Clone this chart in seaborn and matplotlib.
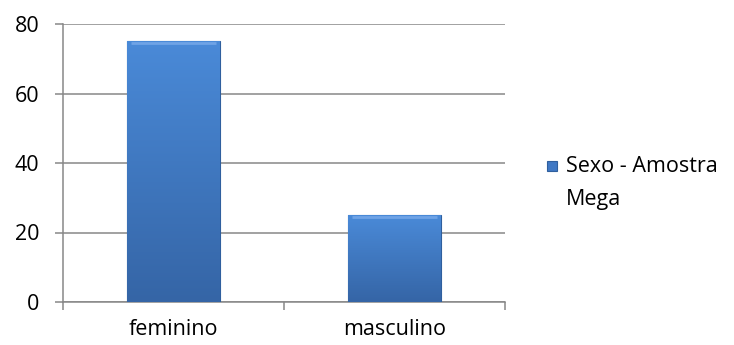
import numpy as np
import matplotlib
matplotlib.use('Agg')
import matplotlib.pyplot as plt
import pandas as pd
import seaborn as sns

# Dados do gráfico
categorias = ['feminino', 'masculino']
valores = [75, 25]
serie = ['Sexo - Amostra', 'Mega']
yticks = [0, 20, 40, 60, 80]

df = pd.DataFrame({'sexo': categorias, 'valor': valores})

sns.set_style('white')
plt.rcParams['font.family'] = ['Open Sans', 'DejaVu Sans']
plt.rcParams['text.color'] = 'black'
plt.rcParams['xtick.labelcolor'] = 'black'
plt.rcParams['ytick.labelcolor'] = 'black'
fs = 15.5

fig = plt.figure(figsize=(7.34, 3.45), dpi=100)
ax = fig.add_axes([63 / 734, 43 / 345, 442 / 734, 278 / 345])

sns.barplot(data=df, x='sexo', y='valor', color='#3f78c4', width=0.42,
            edgecolor='#2f5f9e', linewidth=0.8, ax=ax, zorder=3)

# gradiente vertical nas barras (estilo Excel)
grad = np.linspace(0, 1, 256).reshape(-1, 1)
cmap = matplotlib.colors.LinearSegmentedColormap.from_list('b', ['#3565a6', '#4a8ad8'])
for p in ax.patches:
    x0, y0 = p.get_x(), p.get_y()
    w, h = p.get_width(), p.get_height()
    im = ax.imshow(grad, cmap=cmap, origin='lower', aspect='auto',
                   extent=[x0, x0 + w, y0, y0 + h], zorder=3.5)
    im.set_clip_path(p)
    ax.plot([x0 + w * 0.04, x0 + w * 0.96], [y0 + h - 0.6, y0 + h - 0.6],
            color='#6fa3e6', lw=2, zorder=4, solid_capstyle='butt')

ax.set_xlim(-0.5, 1.5)
ax.set_ylim(0, 80)
ax.set_yticks(yticks)
ax.set_xlabel('')
ax.set_ylabel('')
ax.yaxis.grid(True, color='#878787', linewidth=1.1, zorder=0)
ax.set_axisbelow(True)
for s in ['top', 'right']:
    ax.spines[s].set_visible(False)
for s in ['left', 'bottom']:
    ax.spines[s].set_color('#878787')
    ax.spines[s].set_linewidth(1.1)

ax.set_xticks([-0.5, 0.5, 1.5], minor=False)
ax.set_xticklabels(['', '', ''])
ax.set_xticks([0, 1], minor=True)
ax.set_xticklabels(categorias, minor=True)
ax.tick_params(axis='x', which='major', direction='out', length=6, color='#878787', width=1.1)
ax.tick_params(axis='x', which='minor', length=0, pad=12, labelsize=fs, labelcolor='black')
ax.tick_params(axis='y', direction='out', length=6, color='#878787', width=1.1, labelsize=fs,
               pad=11, labelcolor='black')
ax.tick_params(left=True, bottom=True)
ax.tick_params(axis='x', which='minor', bottom=False)

# legenda
fig.patches.append(matplotlib.patches.Rectangle(
    (547 / 734, 1 - 171 / 345), 10 / 734, 10 / 345, transform=fig.transFigure,
    facecolor='#3f78c4', edgecolor='#2f5f9e', linewidth=0.8))
fig.text(566 / 734, 1 - 166 / 345, serie[0], fontsize=fs, va='center', ha='left', color='black')
fig.text(566 / 734, 1 - 200 / 345, serie[1], fontsize=fs, va='center', ha='left', color='black')

plt.savefig('out.png', dpi=100)
